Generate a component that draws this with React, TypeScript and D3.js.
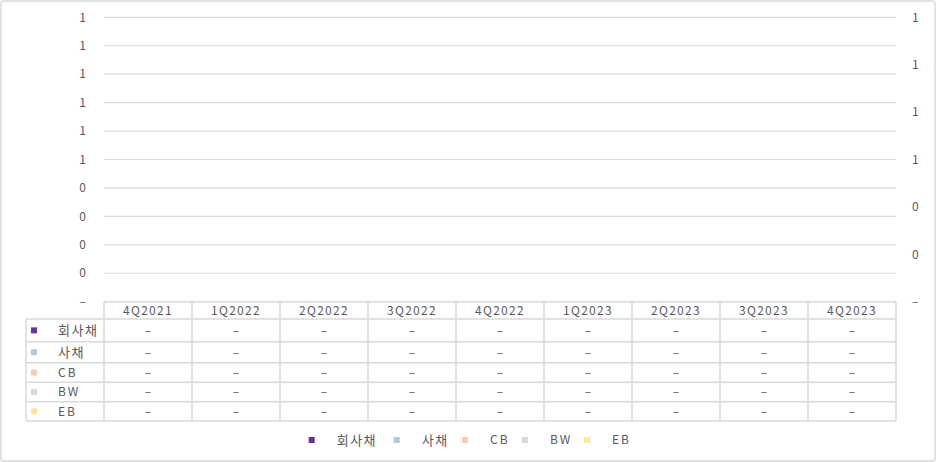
import React from "react";
import * as d3 from "d3";

const categories = ["4Q2021", "1Q2022", "2Q2022", "3Q2022", "4Q2022", "1Q2023", "2Q2023", "3Q2023", "4Q2023"];
const seriesNames = ["회사채", "사채", "CB", "BW", "EB"];
const seriesColors = ["#7030A0", "#B4C7E7", "#F8CBAD", "#D9D9D9", "#FFE699"];
const series회사채 = [0, 0, 0, 0, 0, 0, 0, 0, 0];
const series사채 = [0, 0, 0, 0, 0, 0, 0, 0, 0];
const seriesCB = [0, 0, 0, 0, 0, 0, 0, 0, 0];
const seriesBW = [0, 0, 0, 0, 0, 0, 0, 0, 0];
const seriesEB = [0, 0, 0, 0, 0, 0, 0, 0, 0];
const seriesValues = [series회사채, series사채, seriesCB, seriesBW, seriesEB];
const leftTicks = [0, 0.1, 0.2, 0.3, 0.4, 0.5, 0.6, 0.7, 0.8, 0.9, 1.0];
const rightTicks = [0, 0.2, 0.4, 0.6, 0.8, 1.0, 1.2];

const W = 936;
const H = 462;
const plotLeft = 104;
const plotRight = 896;
const plotTop = 17.3;
const plotBottom = 301.7;
const tableLeft = 26;
const rowEdges = [301.7, 319, 341.7, 362.7, 382.3, 401.7, 421];
const legendMarkerX = [311.7, 396.7, 465, 525, 587];
const legendY = 440;

const TEXT = "#595959";
const GRID = "#D9D9D9";
const FONT = "'Noto Sans CJK KR', 'Noto Sans', sans-serif";

const isKorean = (s: string) => /[\uAC00-\uD7A3]/.test(s);
const fmt = (v: number) => (Math.abs(v) < 1e-9 ? "–" : String(Math.round(v + 1e-9)));

export default function App() {
  const yL = d3.scaleLinear().domain([0, 1]).range([plotBottom, plotTop]);
  const yR = d3.scaleLinear().domain([0, 1.2]).range([plotBottom, plotTop]);
  const x = d3.scaleBand<string>().domain(categories).range([plotLeft, plotRight]).padding(0);

  return (
    <svg
      width={W}
      height={H}
      style={{ position: "fixed", left: 0, top: 0, background: "#fff" }}
      fontFamily={FONT}
    >
      <rect x={1} y={1} width={W - 2} height={H - 2} rx={3} fill="#fff" stroke={GRID} strokeWidth={1.5} />

      {leftTicks.map((t, i) => (
        <line key={"g" + i} x1={plotLeft} x2={plotRight} y1={yL(t)} y2={yL(t)} stroke={GRID} strokeWidth={1.2} />
      ))}

      {leftTicks.map((t, i) => (
        <text key={"l" + i} x={86} y={yL(t)} dy="0.35em" textAnchor="end" fontSize={12} fill={TEXT}>
          {fmt(t)}
        </text>
      ))}
      {rightTicks.map((t, i) => (
        <text key={"r" + i} x={912} y={yR(t)} dy="0.35em" textAnchor="start" fontSize={12} fill={TEXT}>
          {fmt(t)}
        </text>
      ))}

      {seriesValues.map((vals, si) =>
        vals.map((v, ci) => {
          const bw = x.bandwidth() * 0.12;
          const x0 = (x(categories[ci]) ?? 0) + x.bandwidth() * 0.2 + si * bw;
          return (
            <rect key={`b${si}-${ci}`} x={x0} y={yL(v)} width={bw} height={yL(0) - yL(v)} fill={seriesColors[si]} />
          );
        })
      )}

      <g stroke={GRID} strokeWidth={1.5} fill="none">
        <line x1={plotLeft} x2={plotRight} y1={rowEdges[0]} y2={rowEdges[0]} />
        {rowEdges.slice(1).map((ry, i) => (
          <line key={"h" + i} x1={tableLeft} x2={plotRight} y1={ry} y2={ry} />
        ))}
        <line x1={tableLeft} x2={tableLeft} y1={rowEdges[1]} y2={rowEdges[rowEdges.length - 1]} />
        {categories.map((c) => (
          <line key={"v" + c} x1={x(c)} x2={x(c)} y1={rowEdges[0]} y2={rowEdges[rowEdges.length - 1]} />
        ))}
        <line x1={plotRight} x2={plotRight} y1={rowEdges[0]} y2={rowEdges[rowEdges.length - 1]} />
      </g>

      {categories.map((c) => (
        <text
          key={"c" + c}
          x={(x(c) ?? 0) + x.bandwidth() / 2}
          y={(rowEdges[0] + rowEdges[1]) / 2}
          dy="0.36em"
          textAnchor="middle"
          fontSize={12}
          letterSpacing={1.3}
          fill={TEXT}
        >
          {c}
        </text>
      ))}

      {seriesNames.map((name, si) => {
        const cy = (rowEdges[si + 1] + rowEdges[si + 2]) / 2;
        return (
          <g key={"row" + si}>
            <rect x={31} y={cy - 3} width={6} height={6} fill={seriesColors[si]} />
            <text
              x={58}
              y={cy}
              dy="0.36em"
              fontSize={isKorean(name) ? 13 : 12}
              letterSpacing={isKorean(name) ? 1.5 : 2}
              fill={TEXT}
            >
              {name}
            </text>
            {seriesValues[si].map((v, ci) => (
              <text
                key={"d" + ci}
                x={(x(categories[ci]) ?? 0) + x.bandwidth() / 2}
                y={cy}
                dy="0.36em"
                textAnchor="middle"
                fontSize={12}
                fill={TEXT}
              >
                {fmt(v)}
              </text>
            ))}
          </g>
        );
      })}

      {seriesNames.map((name, si) => (
        <g key={"lg" + si}>
          <rect x={legendMarkerX[si] - 3} y={legendY - 3} width={6} height={6} fill={seriesColors[si]} />
          <text
            x={legendMarkerX[si] + 25}
            y={legendY}
            dy="0.36em"
            fontSize={isKorean(name) ? 13 : 12}
            letterSpacing={isKorean(name) ? 1.5 : 2}
            fill={TEXT}
          >
            {name}
          </text>
        </g>
      ))}
    </svg>
  );
}
